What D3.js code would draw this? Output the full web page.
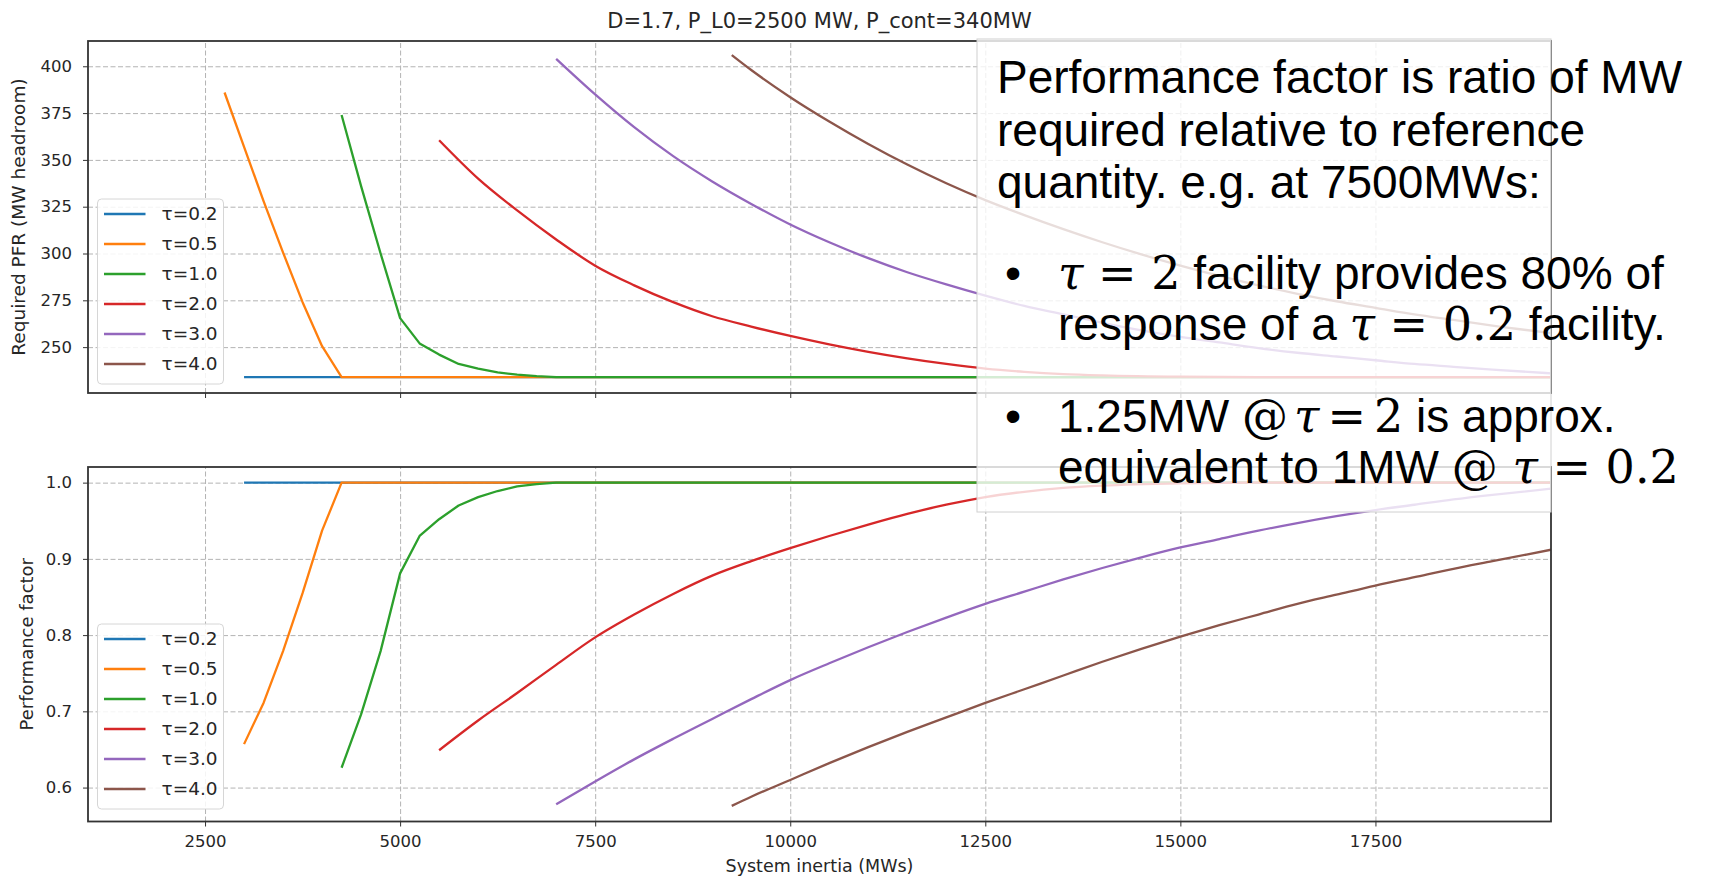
<!DOCTYPE html>
<html>
<head>
<meta charset="utf-8">
<title>Required PFR and performance factor vs system inertia</title>
<style>
/* page */
body {
	margin: 0;
	background: #fff;
}
svg {
	display: block;
}
/* chart text */
.chart text {
	font-family: 'DejaVu Sans', sans-serif;
	fill: #262626;
}
/* overlay note */
.chart text.note {
	font-family: 'Liberation Sans', Arial, sans-serif;
	font-size: 46px;
	fill: #000;
	white-space: pre;
}
.chart text.note .m {
	font-family: 'DejaVu Serif', serif;
}
.chart text.note .mi {
	font-family: 'DejaVu Serif', serif;
	font-style: italic;
}
</style>
</head>
<body>
<svg width="1722" height="877"></svg>
<script src="https://d3js.org/d3.v7.min.js"></script>
<script>
// ---- data ----
const xTickValues = [2500, 5000, 7500, 10000, 12500, 15000, 17500];
const pfrTickValues = [250, 275, 300, 325, 350, 375, 400];
const pfTickValues = [0.6, 0.7, 0.8, 0.9, 1.0];
const tauLabels = ["τ=0.2", "τ=0.5", "τ=1.0", "τ=2.0", "τ=3.0", "τ=4.0"];
const tauColors = ["#1f77b4", "#ff7f0e", "#2ca02c", "#d62728", "#9467bd", "#8c564b"];

// Required PFR (MW headroom) against system inertia (MWs)
const pfrInertia02 = [3000, 19750];
const pfrTau02 = [234, 234];
const pfrInertia05 = [2750, 3000, 3250, 3500, 3750, 4000, 4250, 19750];
const pfrTau05 = [386, 357, 328, 300.5, 274, 250.5, 234, 234];
const pfrInertia10 = [4250, 4500, 4750, 5000, 5250, 5500, 5750, 6000, 6250, 6500, 6750, 7000, 19750];
const pfrTau10 = [374, 336, 300, 265.5, 252, 246, 241, 238.5, 236.5, 235.3, 234.5, 234, 234];
const pfrInertia20 = [5500, 6000, 6500, 7000, 7500, 8000, 8500, 9000, 9500, 10000, 10500, 11000, 11500, 12000, 12500, 13000, 13500, 14000, 15000, 16000, 19750];
const pfrTau20 = [360.5, 340, 323, 307.5, 293.5, 283, 274, 266.5, 261, 256, 251.5, 247.5, 244, 241, 238.5, 236.8, 235.6, 234.9, 234.2, 234, 234];
const pfrInertia30 = [7000, 7500, 8000, 8500, 9000, 9500, 10000, 10500, 11000, 11500, 12000, 12500, 13000, 13500, 14000, 14500, 15000, 15500, 16000, 16500, 17000, 17500, 18000, 18500, 19000, 19750];
const pfrTau30 = [404, 385, 367.5, 352, 338.5, 326.5, 315.5, 306, 297.5, 290, 283.5, 277.5, 272, 267.5, 263, 259, 255.5, 252.5, 249.5, 247, 245, 243, 241, 239.5, 238, 236];
const pfrInertia40 = [9250, 9500, 10000, 10500, 11000, 11500, 12000, 12500, 13000, 13500, 14000, 14500, 15000, 15500, 16000, 16500, 17000, 17500, 18000, 18500, 19000, 19750];
const pfrTau40 = [406, 398, 383.5, 370.5, 358.5, 347.5, 337.5, 328.5, 320.5, 313, 306, 299.5, 293.5, 288, 283, 278.5, 274.5, 271, 267.5, 264.5, 261.5, 257.5];

// Performance factor against system inertia (MWs)
const pfInertia02 = [3000, 19750];
const pfTau02 = [1, 1];
const pfInertia05 = [3000, 3250, 3500, 3750, 4000, 4250, 19750];
const pfTau05 = [0.657, 0.711, 0.779, 0.855, 0.937, 1, 1];
const pfInertia10 = [4250, 4500, 4750, 5000, 5250, 5500, 5750, 6000, 6250, 6500, 6750, 7000, 19750];
const pfTau10 = [0.626, 0.696, 0.779, 0.881, 0.930, 0.952, 0.970, 0.981, 0.989, 0.995, 0.998, 1, 1];
const pfInertia20 = [5500, 6000, 6500, 7000, 7500, 8000, 8500, 9000, 9500, 10000, 10500, 11000, 11500, 12000, 12500, 13000, 13500, 14000, 15000, 16000, 19750];
const pfTau20 = [0.649, 0.688, 0.724, 0.761, 0.797, 0.827, 0.854, 0.878, 0.897, 0.914, 0.930, 0.945, 0.959, 0.971, 0.981, 0.988, 0.993, 0.996, 0.999, 1, 1];
const pfInertia30 = [7000, 7500, 8000, 8500, 9000, 9500, 10000, 10500, 11000, 11500, 12000, 12500, 13000, 13500, 14000, 14500, 15000, 15500, 16000, 16500, 17000, 17500, 18000, 18500, 19000, 19750];
const pfTau30 = [0.578, 0.608, 0.637, 0.664, 0.690, 0.716, 0.741, 0.763, 0.784, 0.804, 0.823, 0.841, 0.857, 0.873, 0.888, 0.902, 0.915, 0.926, 0.937, 0.947, 0.956, 0.964, 0.971, 0.978, 0.984, 0.992];
const pfInertia40 = [9250, 9500, 10000, 10500, 11000, 11500, 12000, 12500, 13000, 13500, 14000, 14500, 15000, 15500, 16000, 16500, 17000, 17500, 18000, 18500, 19000, 19750];
const pfTau40 = [0.576, 0.588, 0.610, 0.632, 0.653, 0.673, 0.692, 0.711, 0.729, 0.747, 0.765, 0.782, 0.798, 0.813, 0.827, 0.841, 0.853, 0.865, 0.876, 0.887, 0.897, 0.912];

// pair up x and y arrays per series
function zipSeries(xs, ys) {
	return xs.map(function(v, i) { return [v, ys[i]]; });
}
const pfrSeries = [
	zipSeries(pfrInertia02, pfrTau02), zipSeries(pfrInertia05, pfrTau05), zipSeries(pfrInertia10, pfrTau10),
	zipSeries(pfrInertia20, pfrTau20), zipSeries(pfrInertia30, pfrTau30), zipSeries(pfrInertia40, pfrTau40)
];
const pfSeries = [
	zipSeries(pfInertia02, pfTau02), zipSeries(pfInertia05, pfTau05), zipSeries(pfInertia10, pfTau10),
	zipSeries(pfInertia20, pfTau20), zipSeries(pfInertia30, pfTau30), zipSeries(pfInertia40, pfTau40)
];

// ---- layout ----
const svg = d3.select("svg").attr("class", "chart");
const left = 88, right = 1551;
const x = d3.scaleLinear().domain([1000, 19750]).range([left, right]);

const panels = [
	{ top: 41, bottom: 393, y: d3.scaleLinear().domain([225.5, 413.5]).range([393, 41]),
	  ticks: pfrTickValues, fmt: d3.format("d"), series: pfrSeries, labels: false,
	  ylabel: "Required PFR (MW headroom)", ylabelX: 25, ylabelSize: 18.5, legendTop: 199 },
	{ top: 467, bottom: 821.5, y: d3.scaleLinear().domain([0.5555, 1.0205]).range([821.5, 467]),
	  ticks: pfTickValues, fmt: d3.format(".1f"), series: pfSeries, labels: true,
	  ylabel: "Performance factor", ylabelX: 33, ylabelSize: 18, legendTop: 624 }
];

panels.forEach(function(p, pi) {
	const g = svg.append("g");
	const h = p.bottom - p.top;

	// dashed grid
	g.append("g")
		.attr("transform", "translate(0," + p.bottom + ")")
		.call(d3.axisBottom(x).tickValues(xTickValues).tickSize(-h).tickFormat(""))
		.call(function(s) { s.select(".domain").remove(); })
		.selectAll("line")
			.attr("stroke", "#b3b3b3")
			.attr("stroke-width", 1)
			.attr("stroke-dasharray", "5,2.5");
	g.append("g")
		.attr("transform", "translate(" + left + ",0)")
		.call(d3.axisLeft(p.y).tickValues(p.ticks).tickSize(-(right - left)).tickFormat(""))
		.call(function(s) { s.select(".domain").remove(); })
		.selectAll("line")
			.attr("stroke", "#b3b3b3")
			.attr("stroke-width", 1)
			.attr("stroke-dasharray", "5,2.5");

	// clip series to the axes box
	svg.append("clipPath").attr("id", "clip" + pi)
		.append("rect").attr("x", left).attr("y", p.top).attr("width", right - left).attr("height", h);

	const line = d3.line()
		.x(function(d) { return x(d[0]); })
		.y(function(d) { return p.y(d[1]); });

	g.append("g").attr("clip-path", "url(#clip" + pi + ")")
		.selectAll("path")
		.data(p.series)
		.enter()
		.append("path")
			.attr("d", function(d, i) { return line.curve(i < 3 ? d3.curveLinear : d3.curveMonotoneX)(d); })
			.attr("fill", "none")
			.attr("stroke", function(d, i) { return tauColors[i]; })
			.attr("stroke-width", 2.3)
			.attr("stroke-linejoin", "round");

	// spines
	g.append("rect")
		.attr("x", left).attr("y", p.top)
		.attr("width", right - left).attr("height", h)
		.attr("fill", "none")
		.attr("stroke", "#333")
		.attr("stroke-width", 1.8);

	// tick marks and labels
	const xa = g.append("g")
		.attr("transform", "translate(0," + p.bottom + ")")
		.call(d3.axisBottom(x).tickValues(xTickValues).tickSize(5).tickPadding(8.5)
			.tickFormat(p.labels ? d3.format("d") : ""));
	const ya = g.append("g")
		.attr("transform", "translate(" + left + ",0)")
		.call(d3.axisLeft(p.y).tickValues(p.ticks).tickSize(5).tickPadding(11).tickFormat(p.fmt));
	[xa, ya].forEach(function(a) {
		a.select(".domain").remove();
		a.attr("font-family", null).attr("font-size", null);
		a.selectAll("line").attr("stroke", "#333");
		a.selectAll("text").style("font-size", "16.5px").attr("fill", "#333");
	});

	// y label
	g.append("text")
		.attr("transform", "translate(" + p.ylabelX + "," + ((p.top + p.bottom) / 2) + ") rotate(-90)")
		.attr("text-anchor", "middle")
		.style("font-size", p.ylabelSize + "px")
		.text(p.ylabel);

	// legend, lower left
	const lg = g.append("g").attr("transform", "translate(97.5," + p.legendTop + ")");
	lg.append("rect")
		.attr("width", 126).attr("height", 185).attr("rx", 4)
		.attr("fill", "#fff").attr("fill-opacity", 0.85)
		.attr("stroke", "#d6d6d6");
	tauLabels.forEach(function(lab, i) {
		const cy = 15 + i * 30;
		lg.append("line")
			.attr("x1", 6.5).attr("x2", 48).attr("y1", cy).attr("y2", cy)
			.attr("stroke", tauColors[i]).attr("stroke-width", 2.3);
		lg.append("text")
			.attr("x", 64).attr("y", cy).attr("dy", "0.35em")
			.style("font-size", "18.5px")
			.text(lab);
	});
});

// title and x label
svg.append("text")
	.attr("x", (left + right) / 2).attr("y", 28)
	.attr("text-anchor", "middle")
	.style("font-size", "21px")
	.text("D=1.7, P_L0=2500 MW, P_cont=340MW");
svg.append("text")
	.attr("x", (left + right) / 2).attr("y", 872)
	.attr("text-anchor", "middle")
	.style("font-size", "17.5px")
	.text("System inertia (MWs)");

// ---- pasted note box over the right side ----
svg.append("rect")
	.attr("x", 977).attr("y", 39)
	.attr("width", 574).attr("height", 473)
	.attr("fill", "#fff").attr("fill-opacity", 0.8)
	.attr("stroke", "#d0d0d0").attr("stroke-width", 1);

// parts: [text, class, dx]
function noteLine(xp, yp, parts) {
	const t = svg.append("text").attr("class", "note").attr("x", xp).attr("y", yp);
	parts.forEach(function(p) {
		t.append("tspan").attr("class", p[1] || null).attr("dx", p[2] || null).text(p[0]);
	});
}
noteLine(997, 93, [["Performance factor is ratio of MW"]]);
noteLine(997, 146, [["required relative to reference"]]);
noteLine(997, 198, [["quantity. e.g. at 7500MWs:"]]);
noteLine(1005, 289, [["•"]]);
noteLine(1058, 289, [["τ", "mi"], [" = 2", "m"], [" facility provides 80% of"]]);
noteLine(1058, 340, [["response of a "], ["τ", "mi"], [" = 0.2", "m"], [" facility."]]);
noteLine(1005, 432, [["•"]]);
noteLine(1058, 432, [["1.25MW "], ["@", "m"], ["τ", "mi", 6], ["=", "m", 8], ["2", "m", 8], [" is approx."]]);
noteLine(1058, 483, [["equivalent to 1MW "], ["@ ", "m"], ["τ", "mi"], [" = 0.2", "m"]]);
</script>
</body>
</html>
